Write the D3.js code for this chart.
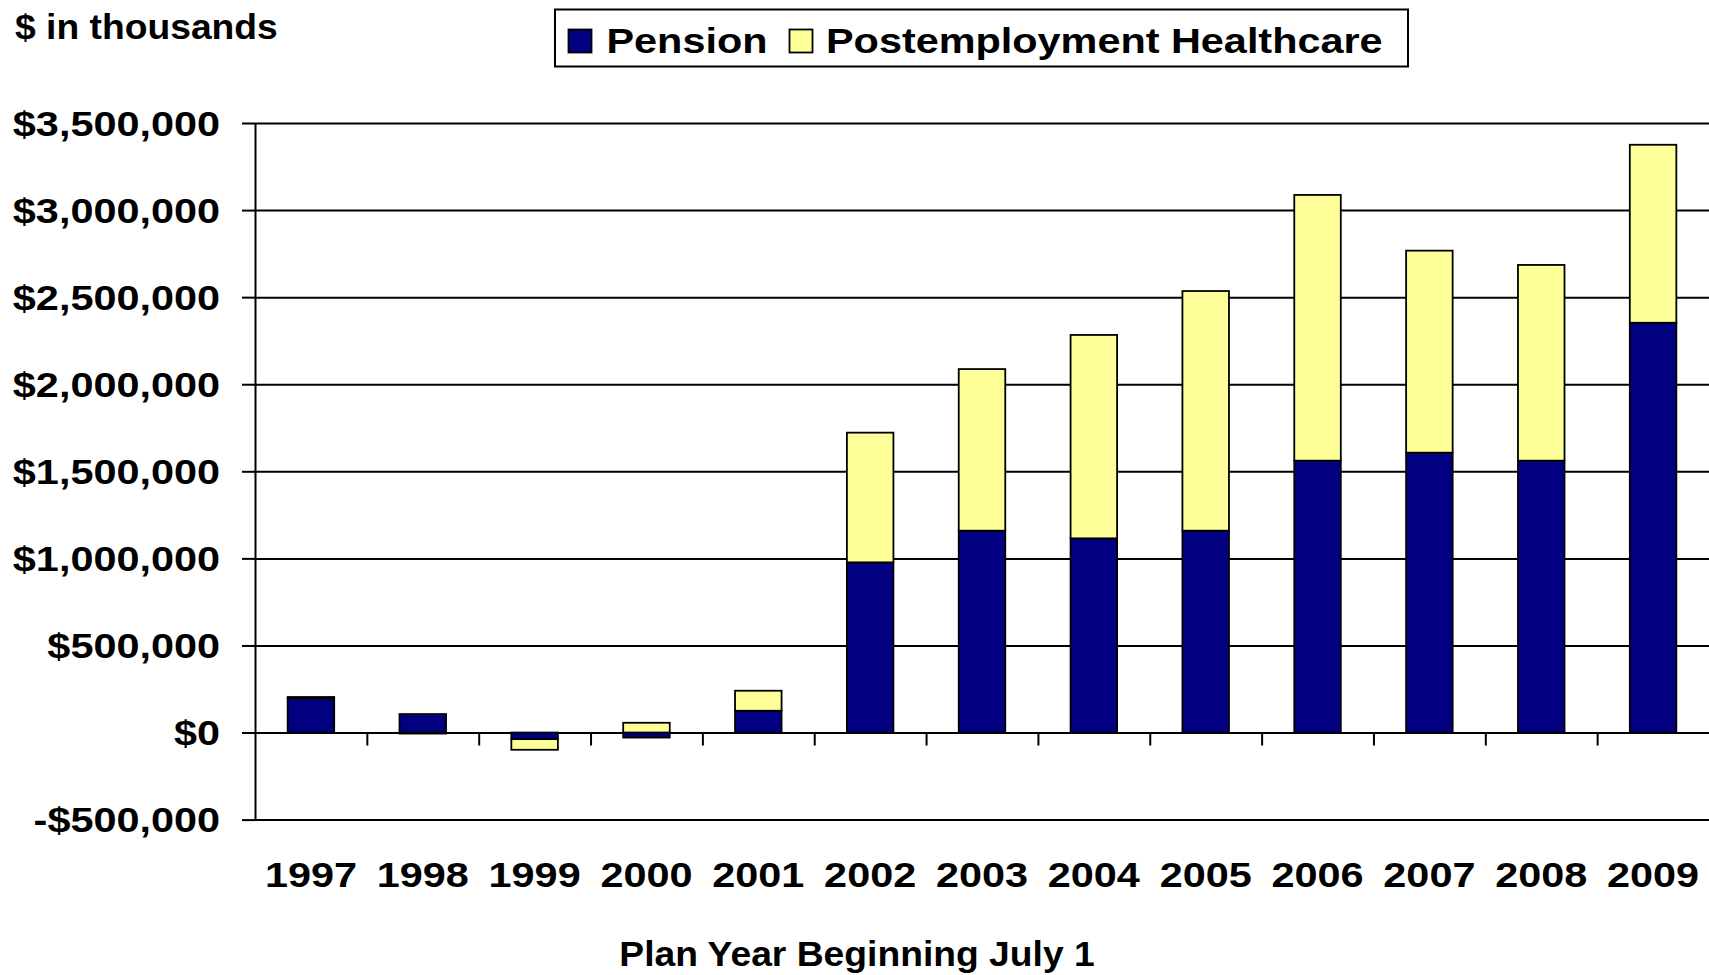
<!DOCTYPE html>
<html>
<head>
<meta charset="utf-8">
<script src="https://cdn.jsdelivr.net/npm/d3@7"></script>
<style>
  body { margin: 0; background: #fff; }
  svg { display: block; }
  text { font-family: "Liberation Sans", Arial, sans-serif; font-weight: bold; fill: #000; }
</style>
</head>
<body>
<div id="chart"></div>
<script>
const years = ["1997", "1998", "1999", "2000", "2001", "2002", "2003", "2004", "2005", "2006", "2007", "2008", "2009"];
const pension = [196000, 106000, -38000, -29000, 125000, 977000, 1159000, 1115000, 1159000, 1561000, 1607000, 1561000, 2353000];
const healthcare = [8000, -6000, -61000, 56000, 115000, 745000, 928000, 1168000, 1376000, 1526000, 1160000, 1124000, 1022000];
const seriesNames = ["Pension", "Postemployment Healthcare"];
const yTicks = [-500000, 0, 500000, 1000000, 1500000, 2000000, 2500000, 3000000, 3500000];

const W = 1709, H = 975;
const plotLeft = 255, plotRight = 1709, plotTop = 123, plotBottom = 819.6;
const stretch = 1.15;      // numbers and legend are drawn wide
const titleStretch = 1.035; // the two captions are narrower
const fontSize = 36;

const colors = { "Pension": "#000080", "Postemployment Healthcare": "#FFFF99" };

const svg = d3.select("#chart")
  .append("svg")
  .attr("width", W)
  .attr("height", H);

const rows = years.map((yr, i) => ({
  year: yr,
  "Pension": pension[i],
  "Postemployment Healthcare": healthcare[i]
}));

const x = d3.scaleBand()
  .domain(years)
  .range([plotLeft, plotRight])
  .paddingInner(0.584)
  .paddingOuter(0.292);

const y = d3.scaleLinear()
  .domain([yTicks[0], yTicks[yTicks.length - 1]])
  .range([plotBottom, plotTop]);

const fmt = v => (v < 0 ? "-$" : "$") + d3.format(",")(Math.abs(v));

// gridlines across the plot
svg.append("g")
  .attr("class", "grid")
  .attr("transform", `translate(${plotLeft},0)`)
  .call(d3.axisLeft(y).tickValues(yTicks).tickSize(-(plotRight - plotLeft)).tickFormat(""))
  .call(g => g.select(".domain").remove())
  .selectAll("line")
  .attr("stroke", "#000")
  .attr("stroke-width", 2);

// y axis with small ticks and labels
const yAxis = svg.append("g")
  .attr("class", "y-axis")
  .attr("transform", `translate(${plotLeft},0)`)
  .call(d3.axisLeft(y).tickValues(yTicks).tickSize(13).tickSizeOuter(0).tickFormat(fmt));

yAxis.select(".domain")
  .attr("stroke", "#000")
  .attr("stroke-width", 2);
yAxis.selectAll("line")
  .attr("stroke", "#000")
  .attr("stroke-width", 2);
yAxis.selectAll("text")
  .attr("x", 0)
  .attr("dy", "0.34em")
  .attr("transform", `translate(-35,0) scale(${stretch},1)`)
  .style("font-size", fontSize + "px")
  .style("font-family", "'Liberation Sans', Arial, sans-serif")
  .style("font-weight", "bold");

// stacked bars
const stack = d3.stack()
  .keys(seriesNames)
  .offset(d3.stackOffsetDiverging);
const stacked = stack(rows);

svg.append("g")
  .attr("class", "bars")
  .selectAll("g")
  .data(stacked)
  .join("g")
  .attr("fill", d => colors[d.key])
  .selectAll("rect")
  .data(d => d)
  .join("rect")
  .attr("x", d => x(d.data.year))
  .attr("width", x.bandwidth())
  .attr("y", d => y(Math.max(d[0], d[1])))
  .attr("height", d => Math.abs(y(d[0]) - y(d[1])))
  .attr("stroke", "#000")
  .attr("stroke-width", 1.8);

// zero line tick marks at category boundaries
const xb = d3.scaleLinear().domain([0, years.length]).range([plotLeft, plotRight]);
svg.append("g")
  .attr("class", "zero-ticks")
  .attr("transform", `translate(0,${y(0)})`)
  .call(d3.axisBottom(xb).tickValues(d3.range(1, years.length)).tickSize(13).tickFormat(""))
  .call(g => g.select(".domain").remove())
  .selectAll("line")
  .attr("stroke", "#000")
  .attr("stroke-width", 2);

// category labels
const xAxis = svg.append("g")
  .attr("class", "x-axis")
  .attr("transform", `translate(0,861)`)
  .call(d3.axisBottom(x).tickSize(0).tickPadding(0));
xAxis.select(".domain").remove();
xAxis.selectAll("text")
  .attr("y", 0)
  .attr("dy", "0.71em")
  .attr("transform", `scale(${stretch},1)`)
  .style("font-size", fontSize + "px")
  .style("font-family", "'Liberation Sans', Arial, sans-serif")
  .style("font-weight", "bold");

// units label
svg.append("text")
  .attr("transform", `translate(15,38.5) scale(${titleStretch},1)`)
  .style("font-size", fontSize + "px")
  .text("$ in thousands");

// x axis title
svg.append("text")
  .attr("transform", `translate(857,966) scale(${titleStretch},1)`)
  .attr("text-anchor", "middle")
  .style("font-size", fontSize + "px")
  .text("Plan Year Beginning July 1");

// legend
const legend = svg.append("g").attr("class", "legend");
legend.append("rect")
  .attr("x", 555)
  .attr("y", 9.5)
  .attr("width", 853)
  .attr("height", 57)
  .attr("fill", "#fff")
  .attr("stroke", "#000")
  .attr("stroke-width", 2);

const legendItems = [
  { key: seriesNames[0], sx: 568.5, tx: 606.5 },
  { key: seriesNames[1], sx: 789.5, tx: 826 }
];
legendItems.forEach(item => {
  legend.append("rect")
    .attr("x", item.sx)
    .attr("y", 29.5)
    .attr("width", 23)
    .attr("height", 23)
    .attr("fill", colors[item.key])
    .attr("stroke", "#000")
    .attr("stroke-width", 1.8);
  legend.append("text")
    .attr("transform", `translate(${item.tx},52.7) scale(${stretch},1)`)
    .style("font-size", fontSize + "px")
    .text(item.key);
});
</script>
</body>
</html>
